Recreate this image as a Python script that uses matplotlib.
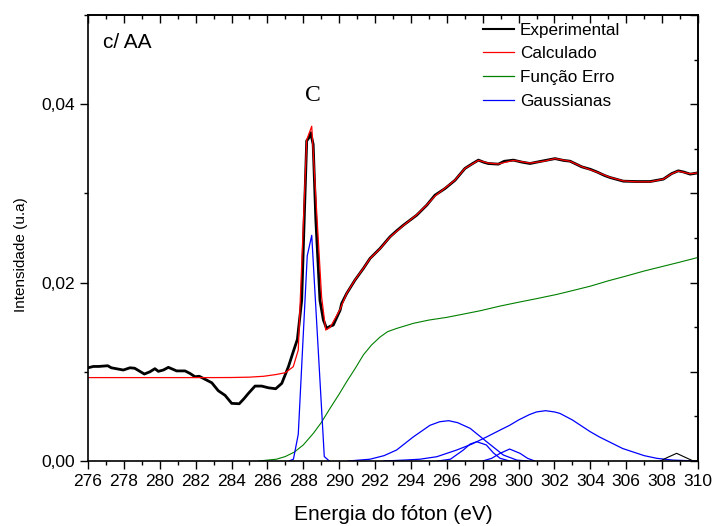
import matplotlib
matplotlib.use("Agg")
import matplotlib.pyplot as plt
from matplotlib.ticker import MultipleLocator, FuncFormatter
from matplotlib.lines import Line2D

plt.rcParams['font.family'] = ['Liberation Sans', 'DejaVu Sans']

# ---- data ----
exp_x = [276.0, 276.3, 276.6, 277.1, 277.3, 277.97, 278.34, 278.6, 279.14, 279.45, 279.73, 279.92,
         280.2, 280.48, 280.94, 281.41, 281.7, 281.96, 282.2, 282.43, 282.9, 283.26, 283.64, 284.01,
         284.43, 284.7, 284.94, 285.31, 285.68, 286.05, 286.46, 286.8, 287.17, 287.44, 287.67, 287.91,
         288.05, 288.19, 288.3, 288.41, 288.55, 288.7, 288.93, 289.12, 289.3, 289.49, 289.67, 290.05,
         290.14, 290.42, 290.88, 291.35, 291.72, 292.28, 292.83, 293.2, 293.58, 294.32, 294.88, 295.34,
         295.9, 296.46, 297.01, 297.4, 297.76, 298.05, 298.31, 298.87, 299.2, 299.71, 300.2, 300.64,
         301.0, 301.38, 302.03, 302.5, 302.87, 303.52, 304.0, 304.35, 304.8, 305.1, 305.84, 306.58,
         307.33, 308.07, 308.53, 308.9, 309.2, 309.56, 310.0]
exp_y = [0.01045, 0.0106, 0.0106, 0.01068, 0.01045, 0.0102, 0.01045, 0.0104, 0.00975, 0.0100, 0.01035, 0.01005,
         0.0102, 0.0105, 0.0101, 0.0101, 0.0098, 0.00945, 0.0095, 0.00926, 0.00877, 0.00788, 0.00736, 0.00646,
         0.00642, 0.0070, 0.00758, 0.0084, 0.0084, 0.00821, 0.0081, 0.0087, 0.01057, 0.01225, 0.01363, 0.0180,
         0.0270, 0.0359, 0.0362, 0.0368, 0.0355, 0.0270, 0.0180, 0.0158, 0.01486, 0.0151, 0.01524, 0.0169,
         0.01767, 0.01879, 0.02028, 0.02159, 0.02271, 0.02383, 0.02513, 0.0258, 0.02644, 0.02756, 0.02868, 0.0298,
         0.03055, 0.03148, 0.0328, 0.0333, 0.03373, 0.0335, 0.03335, 0.03328, 0.0336, 0.03373, 0.0335, 0.03335,
         0.0335, 0.03365, 0.0339, 0.0337, 0.03361, 0.03298, 0.0327, 0.03242, 0.0320, 0.03178, 0.03137, 0.03133,
         0.03133, 0.0316, 0.03222, 0.03253, 0.0324, 0.03216, 0.0323]

calc_x = [276.0, 283.0, 284.0, 285.0, 285.8, 286.5, 287.0, 287.44, 287.72, 288.19, 288.47, 289.02, 289.25,
          289.5, 290.05, 290.42, 290.88, 291.35, 291.72, 292.28, 292.83, 293.58, 294.32, 294.88, 295.34,
          295.9, 296.46, 297.01, 297.76, 298.31, 298.87, 299.71, 300.64, 301.38, 302.03, 302.87, 303.52,
          304.35, 305.1, 305.84, 306.58, 307.33, 308.07, 308.53, 308.9, 309.56, 310.0]
calc_y = [0.00935, 0.00935, 0.00936, 0.0094, 0.0095, 0.0097, 0.0099, 0.01057, 0.01244, 0.0360, 0.03753, 0.0184, 0.01468,
          0.0150, 0.0170, 0.0188, 0.0203, 0.0216, 0.0227, 0.0238, 0.0251, 0.0264, 0.0276, 0.0287, 0.0297,
          0.0306, 0.0315, 0.0328, 0.0337, 0.0334, 0.0333, 0.0337, 0.0334, 0.0336, 0.0339, 0.0336, 0.0330,
          0.0324, 0.0318, 0.0314, 0.0313, 0.0313, 0.0316, 0.0322, 0.0325, 0.0322, 0.0323]

erf_x = [285.5, 286.0, 286.5, 287.0, 287.5, 288.0, 288.56, 289.0, 289.49, 290.0, 290.42, 290.9, 291.35,
         291.8, 292.28, 292.7, 293.2, 294.13, 295.0, 295.99, 297.0, 297.85, 298.97, 300.0, 301.0, 302.12,
         303.0, 304.0, 305.0, 305.84, 307.0, 308.0, 309.0, 310.0]
erf_y = [0.0, 0.0001, 0.0002, 0.0005, 0.0010, 0.0018, 0.0031, 0.0043, 0.0059, 0.0075, 0.0089, 0.0104, 0.0119,
         0.0130, 0.0139, 0.0145, 0.01486, 0.01543, 0.0158, 0.0161, 0.0165, 0.01684, 0.01737, 0.0178, 0.0182, 0.01867,
         0.0191, 0.0196, 0.0202, 0.02065, 0.0213, 0.0218, 0.0223, 0.02282]

g1_x = [287.2, 287.45, 287.72, 288.22, 288.47, 289.17, 289.45]
g1_y = [0.0, 0.0002, 0.0030, 0.0230, 0.0253, 0.0005, 0.0]

g2_x = [290.5, 291.72, 292.5, 293.2, 294.13, 295.06, 295.6, 296.1, 296.6, 297.3, 298.22, 299.15, 299.9, 300.5]
g2_y = [0.0, 0.0002, 0.0006, 0.00123, 0.0027, 0.0040, 0.0044, 0.00452, 0.0043, 0.00366, 0.00216, 0.00067, 0.0001, 0.0]

g3_x = [295.5, 296.2, 296.92, 297.3, 297.67, 298.2, 298.6, 298.97, 299.5]
g3_y = [0.0, 0.0002, 0.00123, 0.0019, 0.00216, 0.0018, 0.0009, 0.0003, 0.0]

g4_x = [298.0, 298.5, 298.97, 299.5, 300.08, 300.5, 300.9]
g4_y = [0.0, 0.0003, 0.00086, 0.00134, 0.00086, 0.0003, 0.0]

g5_x = [292.5, 293.6, 294.5, 295.44, 296.55, 297.4, 298.22, 299.0, 299.5, 300.0, 300.6, 301.0, 301.5,
        302.0, 302.3, 303.0, 303.98, 304.5, 305.1, 305.8, 306.4, 307.0, 307.7, 308.6, 310.0]
g5_y = [0.0, 0.0001, 0.0002, 0.00048, 0.00123, 0.0019, 0.0027, 0.0035, 0.0040, 0.0046, 0.0052, 0.0055, 0.00564,
        0.0055, 0.00534, 0.0046, 0.0033, 0.0027, 0.0021, 0.0014, 0.0010, 0.0006, 0.0003, 0.0001, 0.0]

g6_x = [307.9, 308.3, 308.81, 309.3, 309.74, 310.0]
g6_y = [0.0, 0.0004, 0.00086, 0.0004, 0.0, 0.0]

legend_labels = ['Experimental', 'Calculado', 'Função Erro', 'Gaussianas']

# ---- figure ----
fig = plt.figure(figsize=(7.17, 5.26), dpi=100)
ax = fig.add_axes([88/717, 1-461/526, 610/717, 446/526])

ax.plot(erf_x, erf_y, color='#008000', lw=0.8)
for gx, gy in [(g1_x, g1_y), (g2_x, g2_y), (g3_x, g3_y), (g4_x, g4_y), (g5_x, g5_y)]:
    ax.plot(gx, gy, color='#0000ff', lw=0.9)
ax.plot(g6_x, g6_y, color='black', lw=0.8)
ax.plot(exp_x, exp_y, color='black', lw=2.0)
ax.plot(calc_x, calc_y, color='#ff0000', lw=0.9)

ax.set_xlim(276, 310)
ax.set_ylim(0, 0.05)

ax.xaxis.set_major_locator(MultipleLocator(2))
ax.xaxis.set_minor_locator(MultipleLocator(1))
ax.yaxis.set_major_locator(MultipleLocator(0.02))
ax.yaxis.set_minor_locator(MultipleLocator(0.01))
ax.yaxis.set_major_formatter(FuncFormatter(lambda v, p: f"{v:.2f}".replace('.', ',')))

ax.tick_params(which='major', direction='out', length=6, width=1.0, labelsize=12.5, pad=3)
ax.tick_params(which='minor', direction='out', length=3, width=1.0)
ax.tick_params(axis='y', which='major', pad=3)

for s in ax.spines.values():
    s.set_linewidth(1.2)

secx = ax.secondary_xaxis('top')
secx.xaxis.set_major_locator(MultipleLocator(2))
secx.xaxis.set_minor_locator(MultipleLocator(1))
secx.tick_params(which='major', direction='in', length=6, width=1.0, labeltop=False)
secx.tick_params(which='minor', direction='in', length=3, width=1.0)
secx.spines['top'].set_linewidth(1.2)

secy = ax.secondary_yaxis('right')
secy.yaxis.set_major_locator(MultipleLocator(0.01))
secy.yaxis.set_minor_locator(MultipleLocator(0.005))
secy.tick_params(which='major', direction='in', length=6, width=1.0, labelright=False)
secy.tick_params(which='minor', direction='in', length=3, width=1.0)
secy.spines['right'].set_linewidth(1.2)

ax.set_xlabel('Energia do fóton (eV)', fontsize=15, labelpad=12)
ax.set_ylabel('Intensidade (u.a)', fontsize=11)
ax.yaxis.set_label_coords(-0.098, 0.462)

ax.text(276.84, 0.0469, 'c/ AA', fontsize=15, ha='left', va='center')
ax.text(288.54, 0.041, 'C', fontsize=17, ha='center', va='center',
        family=['Liberation Serif', 'DejaVu Serif'])

handles = [Line2D([], [], color='black', lw=1.5),
           Line2D([], [], color='#ff0000', lw=0.9),
           Line2D([], [], color='#008000', lw=0.9),
           Line2D([], [], color='#0000ff', lw=0.9)]
fig.legend(handles, legend_labels, loc='upper left', bbox_to_anchor=(483/717, 1-22.5/526),
           frameon=False, fontsize=12.3, handlelength=1.8, handletextpad=0.35,
           labelspacing=0.52, borderpad=0, borderaxespad=0)

fig.savefig('out.png', dpi=100)
